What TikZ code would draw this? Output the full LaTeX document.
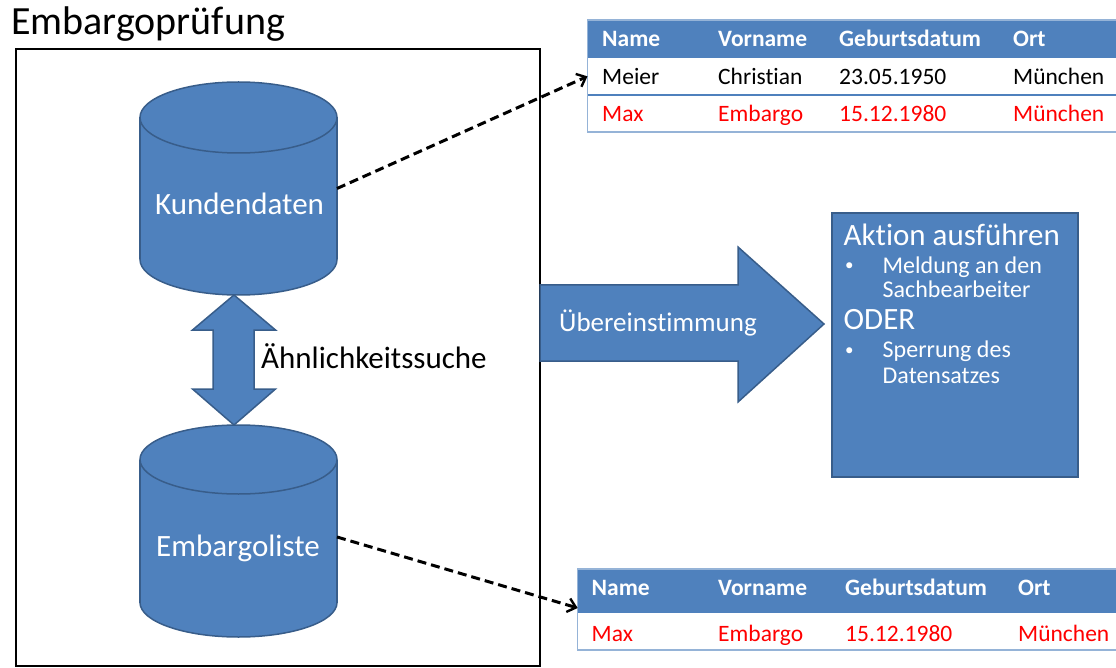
\documentclass[tikz,border=0pt]{standalone}
\usepackage{fontspec}
\setmainfont{Carlito}[Ligatures=NoCommon]
\usetikzlibrary{arrows.meta,calc}
\definecolor{office}{HTML}{4F81BD}
\definecolor{officedark}{HTML}{385D8A}
\definecolor{tableline}{HTML}{95B3D7}
\definecolor{alert}{HTML}{FF0000}

% upright database cylinder: #1 left x, #2 right x, #3 centre y of top face,
% #4 centre y of bottom face, #5 vertical radius of the faces
\newcommand\dbcylinder[5]{%
  \pgfmathsetmacro\cylcx{(#1+#2)/2}%
  \pgfmathsetmacro\cylrx{(#2-#1)/2}%
  \path[fill=office, draw=officedark, line width=1.5pt]
    (\cylcx,#4) ellipse [x radius=\cylrx, y radius=#5];
  \fill[office] (#1,#3) rectangle (#2,#4);
  \draw[officedark, line width=1.5pt] (#1,#3) -- (#1,#4) (#2,#3) -- (#2,#4);
  \path[fill=office, draw=officedark, line width=1.5pt]
    (\cylcx,#3) ellipse [x radius=\cylrx, y radius=#5];
}

\begin{document}
\begin{tikzpicture}[x=1pt, y=-1pt,
  txt/.style={inner sep=0pt, anchor=base west},
  hitbox/.style={inner sep=0pt, outer sep=0pt},
  shapetext/.style={txt, text=white, font=\fontsize{31}{36}\selectfont},
  cell/.style={txt, font=\fontsize{23.5}{28}\selectfont},
  headcell/.style={txt, text=white, font=\fontsize{23.5}{28}\selectfont\bfseries},
  redcell/.style={cell, text=alert},
  tablerow/.style={inner sep=0pt, outer sep=0pt, anchor=north west, minimum width=560pt},
  headrow/.style={tablerow, fill=office},
  linkarrow/.style={line width=3pt, dash pattern=on 9pt off 5pt,
    -{Straight Barb[length=8pt, width=14pt, line width=2.4pt]}},
  bigshape/.style={fill=office, draw=officedark, line width=1.5pt, line join=miter},
  bullet/.style={txt, text=white, font=\fontsize{17}{20}\selectfont},
  item/.style={txt, text=white, font=\fontsize{24}{28}\selectfont},
]
\useasboundingbox (0,0) rectangle (1116,668);
\clip (0,0) rectangle (1116,668);

% title and outer frame
\node[txt, font=\fontsize{40}{48}\selectfont] (title) at (11,34.5) {Embargoprüfung};
\node[hitbox, draw=black, line width=2.5pt, anchor=north west,
      minimum width=524pt, minimum height=617pt] (frame) at (16,49) {};

% the two databases
\dbcylinder{140}{337}{117.5}{259.5}{35.5}
\node[hitbox, minimum width=197pt, minimum height=213pt] (kd) at (238.5,188.5) {};
\node[shapetext] (kdlabel) at (155,215) {Kundendaten};

\dbcylinder{140}{337}{459.5}{602.5}{34.5}
\node[hitbox, minimum width=197pt, minimum height=212pt] (el) at (238.5,531) {};
\node[shapetext] (ellabel) at (156,556.5) {Embargoliste};

% similarity search between the databases
\path[bigshape] (234,295) -- (275.5,330) -- (254,330) -- (254,389) -- (275.5,389)
  -- (234,425) -- (192.5,389) -- (213,389) -- (213,330) -- (192.5,330) -- cycle;
\node[txt, font=\fontsize{31}{36}\selectfont] (sim) at (261,368) {Ähnlichkeitssuche};

% match arrow
\path[bigshape] (540,285) -- (738,285) -- (738,247) -- (824,324) -- (738,402)
  -- (738,361) -- (540,361) -- cycle;
\node[txt, text=white, font=\fontsize{27}{32}\selectfont] (match) at (559,331.5) {Übereinstimmung};

% action box
\node[hitbox, fill=office, draw=officedark, line width=2.5pt, anchor=north west,
      minimum width=246pt, minimum height=264pt] (act) at (832,213) {};
\node[txt, text=white, font=\fontsize{31}{36}\selectfont] (acthead) at (843.5,245.5) {Aktion ausführen};
\node[bullet] (b1) at (845,271) {•};
\node[item] (i1a) at (882.5,273) {Meldung an den};
\node[item] (i1b) at (882.5,298) {Sachbearbeiter};
\node[txt, text=white, font=\fontsize{31}{36}\selectfont] (oder) at (843.5,329) {ODER};
\node[bullet] (b2) at (845,355) {•};
\node[item] (i2a) at (882.5,357) {Sperrung des};
\node[item] (i2b) at (882.5,383) {Datensatzes};

% customer table
\node[headrow, minimum height=37.7pt] (t1h) at (587.5,20) {};
\node[tablerow, minimum height=37.3pt] (t1r1) at (587.5,57.7) {};
\node[tablerow, minimum height=37pt] (t1r2) at (587.5,95) {};
\draw[office, line width=1.5pt] (t1r1.north west) -- (t1r1.north east)
  (t1r2.north west) -- (t1r2.north east);
\draw[tableline, line width=1.5pt] (t1h.north west) rectangle (t1r2.south east);
\node[headcell] (t1c1) at (602,46.5) {Name};
\node[headcell] (t1c2) at (718,46.5) {Vorname};
\node[headcell] (t1c3) at (839,46.5) {Geburtsdatum};
\node[headcell] (t1c4) at (1013,46.5) {Ort};
\node[cell] (t1a1) at (602,85) {Meier};
\node[cell] (t1a2) at (718,85) {Christian};
\node[cell] (t1a3) at (839,85) {23.05.1950};
\node[cell] (t1a4) at (1013,85) {München};
\node[redcell] (t1b1) at (602,121.5) {Max};
\node[redcell] (t1b2) at (718,121.5) {Embargo};
\node[redcell] (t1b3) at (839,121.5) {15.12.1980};
\node[redcell] (t1b4) at (1013,121.5) {München};

% embargo table
\node[headrow, minimum height=44pt] (t2h) at (577.7,569) {};
\node[tablerow, minimum height=37pt] (t2r1) at (577.7,613) {};
\draw[tableline, line width=1.5pt] (t2h.north west) rectangle (t2r1.south east);
\node[headcell] (t2c1) at (591.5,595) {Name};
\node[headcell] (t2c2) at (718,595) {Vorname};
\node[headcell] (t2c3) at (845,595) {Geburtsdatum};
\node[headcell] (t2c4) at (1018,595) {Ort};
\node[redcell] (t2a1) at (591.5,641.5) {Max};
\node[redcell] (t2a2) at (718,641.5) {Embargo};
\node[redcell] (t2a3) at (845,641.5) {15.12.1980};
\node[redcell] (t2a4) at (1018,641.5) {München};

% links from the databases to their records
\draw[linkarrow] (kd.east) -- (t1r1.west);
\draw[linkarrow] ($(el.east)+(0,6)$) -- ($(t2h.south west)+(0,-5)$);
\end{tikzpicture}
\end{document}
